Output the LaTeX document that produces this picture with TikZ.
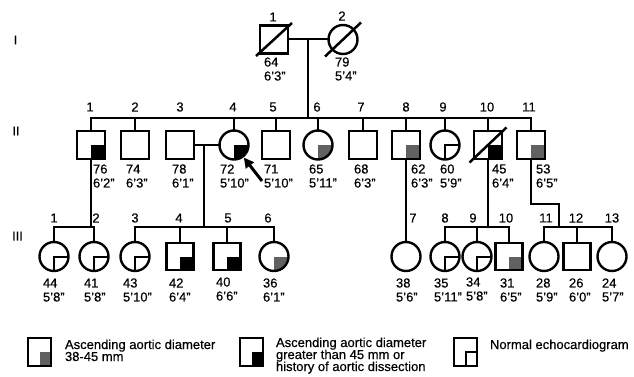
\documentclass[tikz,border=0pt]{standalone}
\usepackage{fontspec}
\setmainfont{Liberation Sans}[UprightFeatures={FakeBold=0.4}]
\usetikzlibrary{arrows.meta}
\newcommand\agelab[5]{%
  \node[agetext] (#1a) at (#2,#3) {#4};
  \node[agetext] (#1b) at (#2,#3+14) {#5};}
\begin{document}
\begin{tikzpicture}[x=1pt,y=-1pt,
  every node/.style={font=\fontsize{13}{14}\selectfont, inner sep=0pt, outer sep=0pt},
  agetext/.style={anchor=west},
  numlab/.style={anchor=center},
  sym/.style={draw, line width=2.4pt, inner sep=0pt, outer sep=0pt},
  male/.style={sym, rectangle, minimum width=28pt, minimum height=28pt},
  female/.style={sym, circle, minimum size=29pt},
  maleIII/.style={sym, rectangle, minimum width=27pt, minimum height=27pt},
  lgsq/.style={sym, rectangle, minimum width=23pt, minimum height=28pt},
  big/.style={path picture={\fill[black] (path picture bounding box.center) rectangle (path picture bounding box.south east);}},
  mid/.style={path picture={\fill[black!62] (path picture bounding box.center) rectangle (path picture bounding box.south east);}},
  norm/.style={path picture={\draw[line width=2pt] (path picture bounding box.south) -- (path picture bounding box.center) -- (path picture bounding box.east);}},
  conn/.style={line width=2pt, line cap=rect},
  dead/.style={line width=2.5pt},
  legtext/.style={anchor=base west}
]
\useasboundingbox (0,0) rectangle (634,377);

% generation labels
\node[numlab] (gI) at (15.5,40) {I};
\node[numlab] (gII) at (16,131) {II};
\node[numlab] (gIII) at (17.5,236) {III};

% generation I
\node[male] (i1) at (274,39.5) {};
\node[female] (i2) at (343,39.5) {};
\draw[dead] ([shift={(-18,16.5)}]i1.center) -- ([shift={(18,-16.5)}]i1.center);
\draw[dead] ([shift={(-18,17)}]i2.center) -- ([shift={(18,-17)}]i2.center);
\node[numlab] (n11) at (273,17) {1};
\node[numlab] (n12) at (342,16) {2};
\agelab{a11}{264}{62}{64}{6'3"}
\agelab{a12}{335}{62}{79}{5'4"}

% generation II
\node[male,big] (p21) at (91,145) {};
\node[male] (p22) at (135,145) {};
\node[male] (p23) at (180,145) {};
\node[female,big] (p24) at (234,145) {};
\node[male] (p25) at (276,145) {};
\node[female,mid] (p26) at (318,145) {};
\node[male] (p27) at (363,145) {};
\node[male,mid] (p28) at (406,145) {};
\node[female,norm] (p29) at (445,145) {};
\node[male,big] (p210) at (488,145) {};
\node[male,mid] (p211) at (531,145) {};
\draw[dead] ([shift={(-18.5,17.5)}]p210.center) -- ([shift={(18.5,-17.5)}]p210.center);

\foreach \t/\x in {1/90,2/135,3/180,4/233,5/273,6/317,7/361,8/406,9/443,10/487,11/529}
  \node[numlab] (n2\t) at (\x,107) {\t};

\agelab{a21}{93}{169}{76}{6'2"}
\agelab{a22}{126}{169}{74}{6'3"}
\agelab{a23}{172}{169}{78}{6'1"}
\agelab{a24}{220}{169}{72}{5'10"}
\agelab{a25}{264}{169}{71}{5'10"}
\agelab{a26}{309}{169}{65}{5'11"}
\agelab{a27}{354}{169}{68}{6'3"}
\agelab{a28}{411}{169}{62}{6'3"}
\agelab{a29}{440}{169}{60}{5'9"}
\agelab{a210}{492}{169}{45}{6'4"}
\agelab{a211}{536}{169}{53}{6'5"}

% generation III
\node[female,norm] (q31) at (54,256.5) {};
\node[female,norm] (q32) at (94,256.5) {};
\node[female,norm] (q33) at (135,256.5) {};
\node[maleIII,big] (q34) at (180,256.5) {};
\node[maleIII,big] (q35) at (227,256.5) {};
\node[female,mid] (q36) at (274,256.5) {};
\node[female] (q37) at (406,256.5) {};
\node[female,norm] (q38) at (445,256.5) {};
\node[female,norm] (q39) at (477,256.5) {};
\node[maleIII,mid] (q310) at (509,256.5) {};
\node[female] (q311) at (544,256.5) {};
\node[maleIII] (q312) at (577,256.5) {};
\node[female] (q313) at (612,256.5) {};

\foreach \t/\x in {1/54,2/96,3/135,4/179,5/228,6/268,7/413,8/445,9/473,10/506,11/546,12/576,13/612}
  \node[numlab] (n3\t) at (\x,218) {\t};

\agelab{a31}{43}{283}{44}{5'8"}
\agelab{a32}{84}{283}{41}{5'8"}
\agelab{a33}{123}{283}{43}{5'10"}
\agelab{a34}{169}{283}{42}{6'4"}
\agelab{a35}{216}{282}{40}{6'6"}
\agelab{a36}{263}{283}{36}{6'1"}
\agelab{a37}{396}{283}{38}{5'6"}
\agelab{a38}{434}{283}{35}{5'11"}
\agelab{a39}{466}{282}{34}{5'8"}
\agelab{a310}{500}{283}{31}{6'5"}
\agelab{a311}{536}{283}{28}{5'9"}
\agelab{a312}{569}{283}{26}{6'0"}
\agelab{a313}{602}{283}{24}{5'7"}

% junction coordinates
\coordinate (m1) at (308,39.5);
\coordinate (s2a) at (91,118);
\coordinate (s2b) at (531,118);
\coordinate (m2) at (204,145);
\coordinate (s3a) at (54,227);
\coordinate (s3b) at (94,227);
\coordinate (s3c) at (135,227);
\coordinate (s3d) at (274,227);
\coordinate (s3e) at (445,227);
\coordinate (s3f) at (509,227);
\coordinate (s3g) at (544,227);
\coordinate (s3h) at (612,227);
\coordinate (k1) at (531,204);
\coordinate (k2) at (559,204);

% connectors
\draw[conn] (i1.east) -- (i2.west);
\draw[conn] (m1) -- (m1 |- s2a);
\draw[conn] (s2a) -- (s2b);
\foreach \n in {p21,p22,p24,p25,p26,p27,p28,p29,p210,p211}
  \draw[conn] (\n.north) -- (\n.north |- s2a);
\draw[conn] (p23.east) -- (p24.west);
\draw[conn] (m2) -- (m2 |- s3c);

\draw[conn] (p21.south) -- (p21.south |- s3a);
\draw[conn] (s3a) -- (s3b);
\foreach \n in {q31,q32}
  \draw[conn] (\n.north) -- (\n.north |- s3a);

\draw[conn] (s3c) -- (s3d);
\foreach \n in {q33,q34,q35,q36}
  \draw[conn] (\n.north) -- (\n.north |- s3c);

\draw[conn] (p28.south) -- (q37.north);

\draw[conn] (p210.south) -- (p210.south |- s3e);
\draw[conn] (s3e) -- (s3f);
\foreach \n in {q38,q39,q310}
  \draw[conn] (\n.north) -- (\n.north |- s3e);

\draw[conn] (p211.south) -- (k1) -- (k2) -- (k2 |- s3g);
\draw[conn] (s3g) -- (s3h);
\foreach \n in {q311,q312,q313}
  \draw[conn] (\n.north) -- (\n.north |- s3g);

% proband arrow
\coordinate (arrT) at (262,181);
\draw[line width=3pt, -{Triangle[length=10pt,width=10pt]}, shorten >=1.5pt] (arrT) -- (p24);

% legend
\node[lgsq,mid] (lg1) at (39.5,352) {};
\node[legtext] (lt1a) at (65,349) {Ascending aortic diameter};
\node[legtext] (lt1b) at (65,361) {38-45 mm};
\node[lgsq,big] (lg2) at (251.5,352) {};
\node[legtext] (lt2a) at (276,347) {Ascending aortic diameter};
\node[legtext] (lt2b) at (276,359) {greater than 45 mm or};
\node[legtext] (lt2c) at (276,371) {history of aortic dissection};
\node[lgsq,norm] (lg3) at (465.5,352) {};
\node[legtext] (lt3) at (490,349) {Normal echocardiogram};
\end{tikzpicture}
\end{document}
